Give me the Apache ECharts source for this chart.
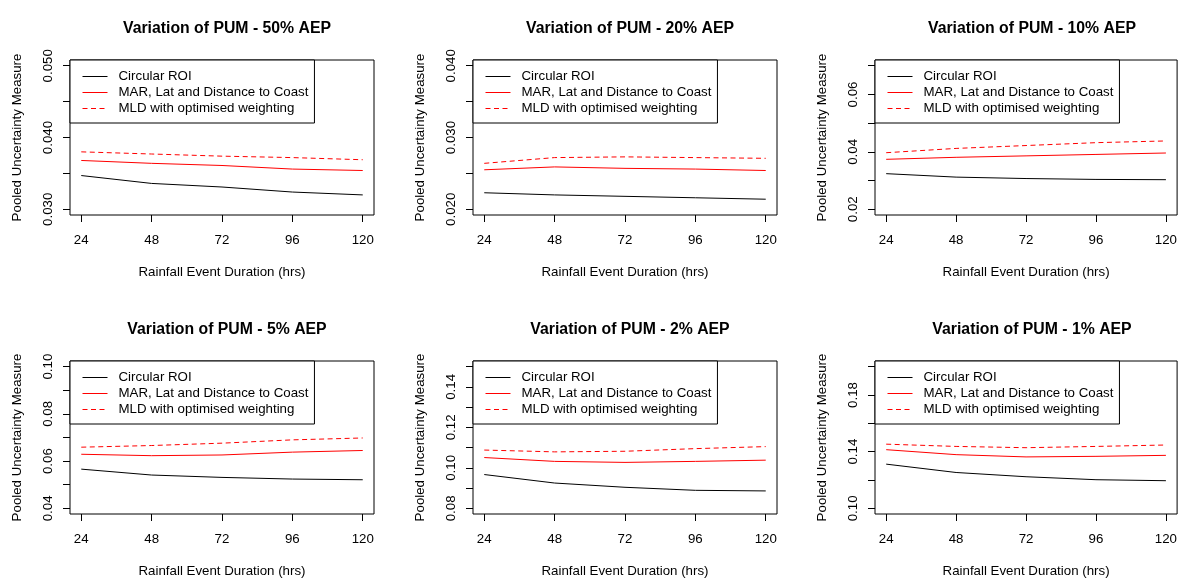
<!DOCTYPE html>
<html>
<head>
<meta charset="utf-8">
<script src="https://cdn.jsdelivr.net/npm/echarts@6/dist/echarts.min.js"></script>
<style>
html,body{margin:0;padding:0;background:#fff;}
#chart{width:1180px;height:579px;}
</style>
</head>
<body>
<div id="chart"></div>
<script>
// ---------- DATA ----------
const durations = [24, 48, 72, 96, 120];
const xTickLabels = [24, 48, 72, 96, 120];
const panelTitles = [
  'Variation of PUM - 50% AEP', 'Variation of PUM - 20% AEP', 'Variation of PUM - 10% AEP',
  'Variation of PUM - 5% AEP', 'Variation of PUM - 2% AEP', 'Variation of PUM - 1% AEP'
];
const seriesNames = ['Circular ROI', 'MAR, Lat and Distance to Coast', 'MLD with optimised weighting'];

// one row per panel (50%, 20%, 10%, 5%, 2%, 1% AEP)
const circularROI = [
  [0.0347, 0.0336, 0.0331, 0.0324, 0.0320],
  [0.0223, 0.0220, 0.0218, 0.0216, 0.0214],
  [0.0324, 0.0312, 0.0307, 0.0304, 0.0303],
  [0.0566, 0.0541, 0.0531, 0.0524, 0.0521],
  [0.0967, 0.0925, 0.0904, 0.0889, 0.0886],
  [0.1312, 0.1253, 0.1223, 0.1202, 0.1195]
];
const marLatCoast = [
  [0.0368, 0.0364, 0.0361, 0.0356, 0.0354],
  [0.0255, 0.0259, 0.0257, 0.0256, 0.0254],
  [0.0374, 0.0381, 0.0386, 0.0391, 0.0396],
  [0.0629, 0.0623, 0.0626, 0.0638, 0.0645],
  [0.1051, 0.1032, 0.1027, 0.1032, 0.1038],
  [0.1414, 0.1379, 0.1363, 0.1367, 0.1374]
];
const mldOptimised = [
  [0.0380, 0.0377, 0.0374, 0.0372, 0.0369],
  [0.0264, 0.0272, 0.0273, 0.0272, 0.0271],
  [0.0397, 0.0412, 0.0422, 0.0432, 0.0438],
  [0.0659, 0.0666, 0.0676, 0.0690, 0.0698],
  [0.1088, 0.1079, 0.1082, 0.1095, 0.1105],
  [0.1453, 0.1437, 0.1428, 0.1437, 0.1447]
];

const yLimits = [[0.03, 0.05], [0.02, 0.04], [0.02, 0.07], [0.04, 0.10], [0.08, 0.15], [0.10, 0.20]];
const yTicks = [
  [0.030, 0.035, 0.040, 0.045, 0.050],
  [0.020, 0.025, 0.030, 0.035, 0.040],
  [0.02, 0.03, 0.04, 0.05, 0.06, 0.07],
  [0.04, 0.05, 0.06, 0.07, 0.08, 0.09, 0.10],
  [0.08, 0.09, 0.10, 0.11, 0.12, 0.13, 0.14, 0.15],
  [0.10, 0.12, 0.14, 0.16, 0.18, 0.20]
];
const yTickLabels = [
  ['0.030', '0.040', '0.050'],
  ['0.020', '0.030', '0.040'],
  ['0.02', '0.04', '0.06'],
  ['0.04', '0.06', '0.08', '0.10'],
  ['0.08', '0.10', '0.12', '0.14'],
  ['0.10', '0.14', '0.18']
];

// ---------- LAYOUT ----------
const FONT = 'Liberation Sans, Arial, sans-serif';
const FS = 13.3;
const colLefts = [70, 473, 875];
const rowTops = [60, 361];
const gridW = 304, gridH = 155;
const colors = ['#000000', '#ff0000', '#ff0000'];
const lineTypes = ['solid', 'solid', [5, 3.5]];

const grids = [], xAxes = [], yAxes = [], titles = [], legends = [], series = [];
const allData = [circularROI, marLatCoast, mldOptimised];

for (let p = 0; p < 6; p++) {
  const col = p % 3, row = Math.floor(p / 3);
  const left = colLefts[col], top = rowTops[row];
  grids.push({ left: left, top: top, width: gridW, height: gridH, show: true,
    borderColor: '#000', borderWidth: 1, backgroundColor: 'transparent', containLabel: false });

  const xr = durations[durations.length - 1] - durations[0];
  xAxes.push({
    type: 'value', gridIndex: p,
    min: durations[0] - 0.04 * xr, max: durations[durations.length - 1] + 0.04 * xr,
    name: 'Rainfall Event Duration (hrs)', nameLocation: 'middle', nameGap: 51,
    nameTextStyle: { fontFamily: FONT, fontSize: FS, color: '#000' },
    axisLine: { show: false },
    axisTick: { show: true, length: 7, inside: false, customValues: xTickLabels, lineStyle: { color: '#000', width: 1 } },
    axisLabel: { show: true, customValues: xTickLabels, margin: 19, fontFamily: FONT, fontSize: FS, color: '#000',
      showMinLabel: true, showMaxLabel: true },
    splitLine: { show: false }
  });

  const yl = yLimits[p], yr = yl[1] - yl[0];
  const labelVals = yTickLabels[p].map(Number);
  yAxes.push({
    type: 'value', gridIndex: p,
    min: yl[0] - 0.04 * yr, max: yl[1] + 0.04 * yr,
    name: 'Pooled Uncertainty Measure', nameLocation: 'middle', nameGap: 46, nameRotate: 90,
    nameTextStyle: { fontFamily: FONT, fontSize: FS, color: '#000' },
    axisLine: { show: false },
    axisTick: { show: true, length: 7, inside: false, customValues: yTicks[p], lineStyle: { color: '#000', width: 1 } },
    axisLabel: { show: true, customValues: labelVals, rotate: 90, margin: 15, fontFamily: FONT, fontSize: FS, color: '#000',
      formatter: (function (vals, labs) { return function (v) {
        for (let i = 0; i < vals.length; i++) if (Math.abs(vals[i] - v) < 1e-9) return labs[i];
        return '';
      }; })(labelVals, yTickLabels[p]) },
    splitLine: { show: false }
  });

  titles.push({
    text: panelTitles[p], left: left + gridW / 2, top: top - 44, textAlign: 'center',
    textStyle: { fontFamily: FONT, fontSize: 15.8, fontWeight: 'bold', color: '#000' }
  });

  legends.push({
    show: true, orient: 'vertical', left: left, top: top,
    data: seriesNames, selectedMode: false,
    itemWidth: 25, itemHeight: 14, itemGap: 3,
    padding: [10, 6, 8, 12],
    borderColor: '#000', borderWidth: 1, backgroundColor: '#fff',
    itemStyle: { color: 'rgba(0,0,0,0)', borderColor: 'rgba(0,0,0,0)', borderWidth: 0 },
    lineStyle: { width: 1 },
    textStyle: { fontFamily: FONT, fontSize: FS, color: '#000', padding: [0, 0, 0, 6] }
  });

  for (let s = 0; s < 3; s++) {
    series.push({
      name: seriesNames[s], type: 'line', xAxisIndex: p, yAxisIndex: p,
      data: durations.map((d, i) => [d, allData[s][p][i]]),
      symbol: 'none', showSymbol: false, smooth: false, silent: true, animation: false,
      color: colors[s],
      lineStyle: { color: colors[s], width: 1, type: lineTypes[s] },
      z: 3
    });
  }
}

const chart = echarts.init(document.getElementById('chart'), null, { renderer: 'canvas' });
chart.setOption({
  animation: false,
  backgroundColor: '#fff',
  title: titles,
  legend: legends,
  grid: grids,
  xAxis: xAxes,
  yAxis: yAxes,
  series: series
});
</script>
</body>
</html>
